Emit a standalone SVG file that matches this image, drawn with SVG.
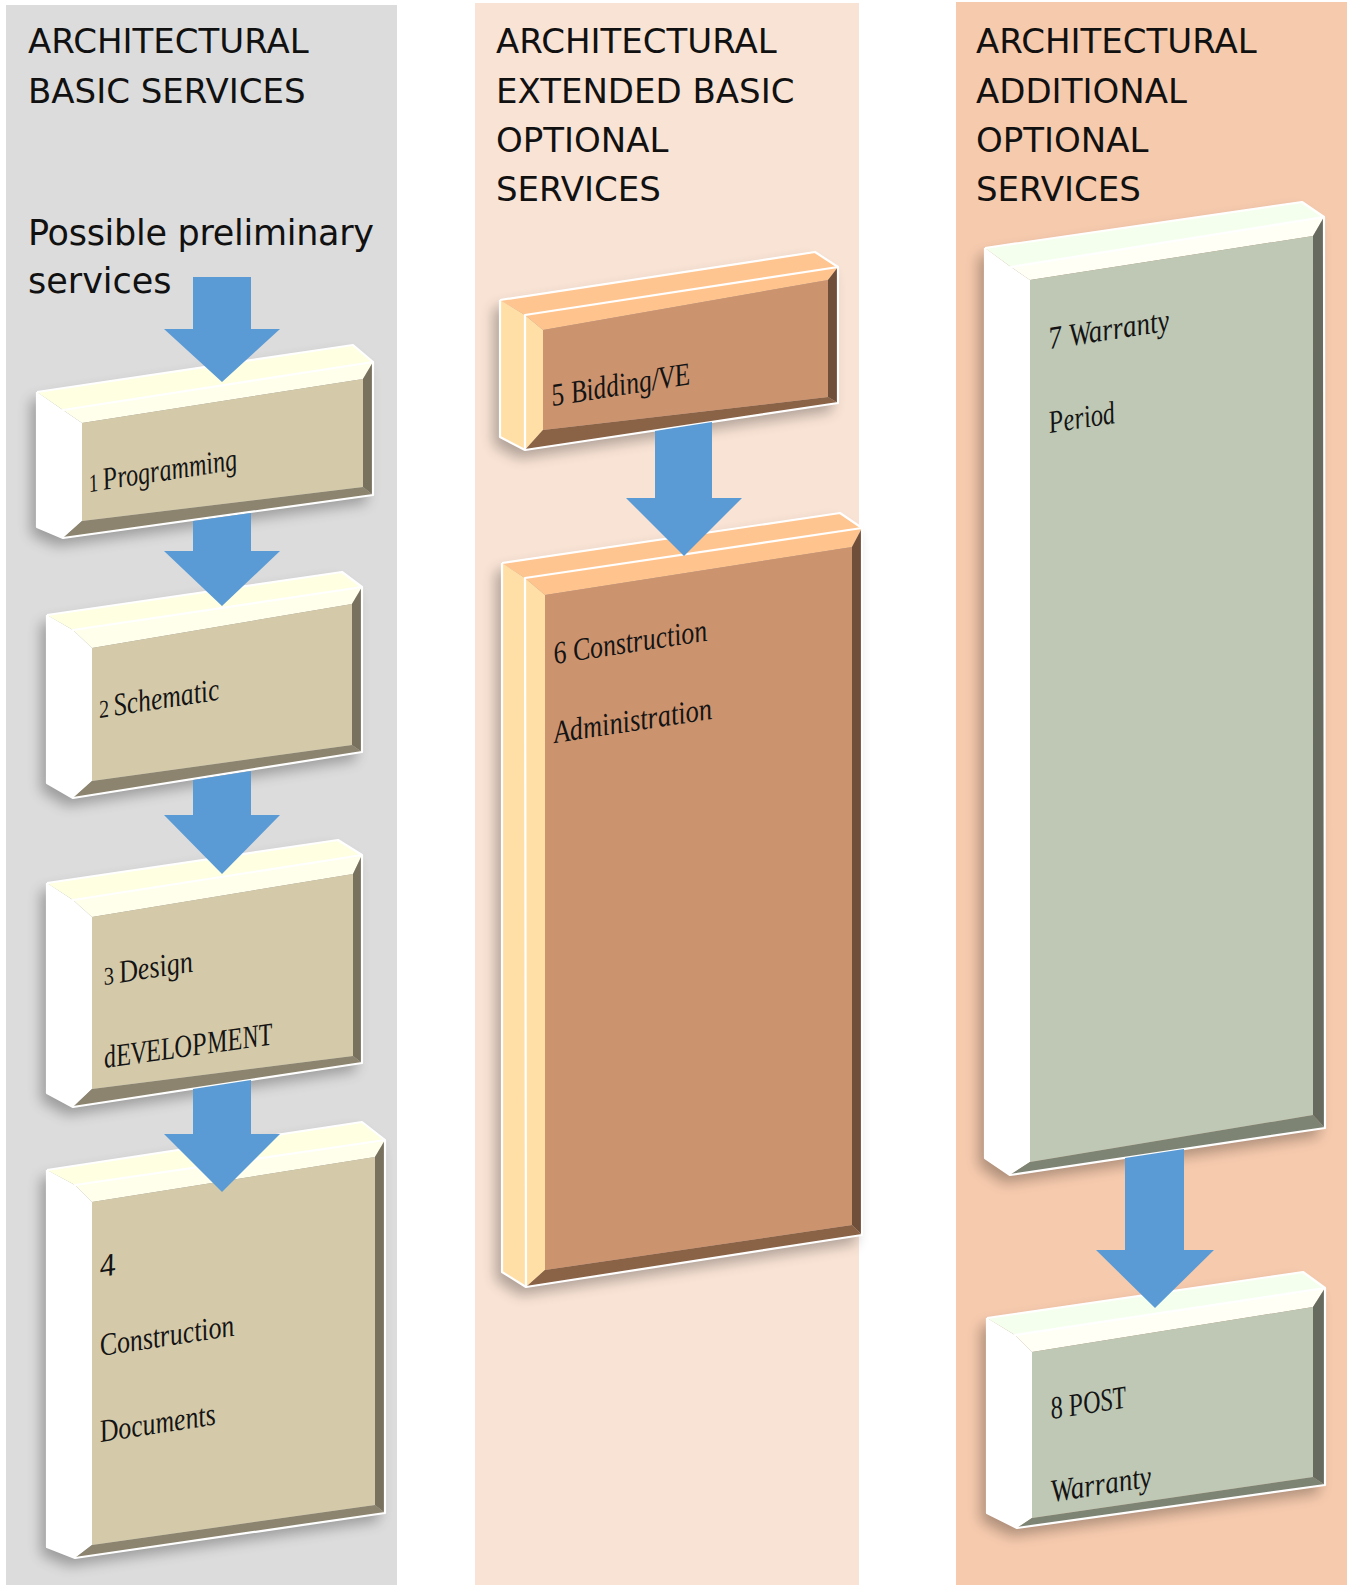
<svg xmlns="http://www.w3.org/2000/svg" width="1351" height="1585" viewBox="0 0 1351 1585">
<defs>
<filter id="sh" x="-30%" y="-30%" width="160%" height="160%">
<feGaussianBlur in="SourceAlpha" stdDeviation="7"/>
<feOffset dx="-6" dy="8"/>
<feComponentTransfer><feFuncA type="linear" slope="0.3"/></feComponentTransfer>
</filter>
</defs>
<style>
.hd{font-family:"DejaVu Sans","Liberation Sans",sans-serif;font-size:34px;fill:#111}
.pre{font-family:"DejaVu Sans","Liberation Sans",sans-serif;font-size:35px;fill:#111}
.lbl{font-family:"Liberation Serif","DejaVu Serif",serif;font-style:italic;font-size:32px;fill:#141414}
.num{font-size:25px}
.hl{fill:none;stroke:#fff;stroke-width:2.2;stroke-linejoin:round}
.shd{fill:#000}
.arrow{fill:#5B9BD5}
.k1 .sf,.k1 .lb{fill:#FFFFFF}.k1 .tf{fill:#FFFFE1}.k1 .tb{fill:#FFFFEC}.k1 .rb{fill:#77715E}.k1 .bb{fill:#8C846E}.k1 .fc{fill:#D4CAAA}
.k2 .sf,.k2 .lb{fill:#FFDFA5}.k2 .tf{fill:#FFC590}.k2 .tb{fill:#FFC48E}.k2 .rb{fill:#6F4F3A}.k2 .bb{fill:#8A6246}.k2 .fc{fill:#CC936F}
.k3 .sf,.k3 .lb{fill:#FFFFFF}.k3 .tf{fill:#F5FFEE}.k3 .tb{fill:#FFFFF6}.k3 .rb{fill:#676B5F}.k3 .bb{fill:#7D8474}.k3 .fc{fill:#BEC8B4}
</style>

<!-- column backgrounds -->
<rect x="6" y="5" width="391" height="1580" fill="#DCDCDC"/>
<rect x="475" y="3" width="384" height="1582" fill="#F9E3D5"/>
<rect x="956" y="2" width="391" height="1583" fill="#F6CAAD"/>

<!-- headers -->
<g id="header1">
<text class="hd" x="28" y="53">ARCHITECTURAL</text>
<text class="hd" x="28" y="103">BASIC SERVICES</text>
<text class="pre" x="28" y="245" textLength="346">Possible preliminary</text>
<text class="pre" x="28" y="293">services</text>
</g>
<g id="header2">
<text class="hd" x="496" y="53">ARCHITECTURAL</text>
<text class="hd" x="496" y="103">EXTENDED BASIC</text>
<text class="hd" x="496" y="152">OPTIONAL</text>
<text class="hd" x="496" y="201">SERVICES</text>
</g>
<g id="header3">
<text class="hd" x="976" y="53">ARCHITECTURAL</text>
<text class="hd" x="976" y="103">ADDITIONAL</text>
<text class="hd" x="976" y="152">OPTIONAL</text>
<text class="hd" x="976" y="201">SERVICES</text>
</g>

<!-- Box 1 -->
<g id="box1" class="box k1">
<polygon class="shd" filter="url(#sh)" points="37,392 353,345 373,362 373,495 63,538 37,527"/>
<polygon class="sf" points="37,392 63,410 63,538 37,527"/>
<polygon class="tf" points="37,392 353,345 373,362 63,410"/>
<polygon class="lb" points="63,410 82,423 82,521 63,538"/>
<polygon class="tb" points="63,410 373,362 363,379 82,423"/>
<polygon class="rb" points="373,362 373,495 363,487 363,379"/>
<polygon class="bb" points="63,538 373,495 363,487 82,521"/>
<polygon class="fc" points="82,423 363,379 363,487 82,521"/>
<polyline class="hl" points="37,392 353,345 373,362 373,495 63,538 37,527 37,392"/>
<polyline class="hl" points="63,538 63,410 373,362"/>
<text class="lbl" x="90" y="492" transform="rotate(-8.7 90 492)" textLength="150" lengthAdjust="spacingAndGlyphs"><tspan class="num">1 </tspan>Programming</text>
</g>

<!-- Box 2 -->
<g id="box2" class="box k1">
<polygon class="shd" filter="url(#sh)" points="47,615 342,572 362,587 362,752 73,798 47,783"/>
<polygon class="sf" points="47,615 73,630 73,798 47,783"/>
<polygon class="tf" points="47,615 342,572 362,587 73,630"/>
<polygon class="lb" points="73,630 92,648 92,781 73,798"/>
<polygon class="tb" points="73,630 362,587 352,604 92,648"/>
<polygon class="rb" points="362,587 362,752 352,745 352,604"/>
<polygon class="bb" points="73,798 362,752 352,745 92,781"/>
<polygon class="fc" points="92,648 352,604 352,745 92,781"/>
<polyline class="hl" points="47,615 342,572 362,587 362,752 73,798 47,783 47,615"/>
<polyline class="hl" points="73,798 73,630 362,587"/>
<text class="lbl" x="100" y="718" transform="rotate(-8.7 100 718)" textLength="122" lengthAdjust="spacingAndGlyphs"><tspan class="num">2 </tspan>Schematic</text>
</g>

<!-- Box 3 -->
<g id="box3" class="box k1">
<polygon class="shd" filter="url(#sh)" points="47,883 338,840 362,855 362,1063 73,1107 47,1093"/>
<polygon class="sf" points="47,883 73,900 73,1107 47,1093"/>
<polygon class="tf" points="47,883 338,840 362,855 73,900"/>
<polygon class="lb" points="73,900 92,917 92,1089 73,1107"/>
<polygon class="tb" points="73,900 362,855 353,874 92,917"/>
<polygon class="rb" points="362,855 362,1063 353,1056 353,874"/>
<polygon class="bb" points="73,1107 362,1063 353,1056 92,1089"/>
<polygon class="fc" points="92,917 353,874 353,1056 92,1089"/>
<polyline class="hl" points="47,883 338,840 362,855 362,1063 73,1107 47,1093 47,883"/>
<polyline class="hl" points="73,1107 73,900 362,855"/>
<text class="lbl" x="105" y="985" transform="rotate(-8.7 105 985)" textLength="90" lengthAdjust="spacingAndGlyphs"><tspan class="num">3 </tspan>Design</text>
<text class="lbl" x="105" y="1068" transform="rotate(-8 105 1068)" textLength="170" lengthAdjust="spacingAndGlyphs">dEVELOPMENT</text>
</g>

<!-- Box 4 -->
<g id="box4" class="box k1">
<polygon class="shd" filter="url(#sh)" points="47,1170 362,1122 385,1140 385,1513 75,1558 47,1547"/>
<polygon class="sf" points="47,1170 75,1185 75,1558 47,1547"/>
<polygon class="tf" points="47,1170 362,1122 385,1140 75,1185"/>
<polygon class="lb" points="75,1185 92,1202 92,1545 75,1558"/>
<polygon class="tb" points="75,1185 385,1140 375,1157 92,1202"/>
<polygon class="rb" points="385,1140 385,1513 375,1505 375,1157"/>
<polygon class="bb" points="75,1558 385,1513 375,1505 92,1545"/>
<polygon class="fc" points="92,1202 375,1157 375,1505 92,1545"/>
<polyline class="hl" points="47,1170 362,1122 385,1140 385,1513 75,1558 47,1547 47,1170"/>
<polyline class="hl" points="75,1558 75,1185 385,1140"/>
<text class="lbl" x="101" y="1277" transform="rotate(-8.7 101 1277)">4</text>
<text class="lbl" x="101" y="1356" transform="rotate(-8.7 101 1356)" textLength="136" lengthAdjust="spacingAndGlyphs">Construction</text>
<text class="lbl" x="101" y="1442" transform="rotate(-8.7 101 1442)" textLength="117" lengthAdjust="spacingAndGlyphs">Documents</text>
</g>

<!-- Box 5 -->
<g id="box5" class="box k2">
<polygon class="shd" filter="url(#sh)" points="500,300 815,252 838,267 838,403 525,450 500,437"/>
<polygon class="sf" points="500,300 525,315 525,450 500,437"/>
<polygon class="tf" points="500,300 815,252 838,267 525,315"/>
<polygon class="lb" points="525,315 543,330 543,430 525,450"/>
<polygon class="tb" points="525,315 838,267 828,280 543,330"/>
<polygon class="rb" points="838,267 838,403 828,397 828,280"/>
<polygon class="bb" points="525,450 838,403 828,397 543,430"/>
<polygon class="fc" points="543,330 828,280 828,397 543,430"/>
<polyline class="hl" points="500,300 815,252 838,267 838,403 525,450 500,437 500,300"/>
<polyline class="hl" points="525,450 525,315 838,267"/>
<text class="lbl" x="553" y="406" transform="rotate(-9 553 406)" textLength="140" lengthAdjust="spacingAndGlyphs">5 Bidding/VE</text>
</g>

<!-- Box 6 -->
<g id="box6" class="box k2">
<polygon class="shd" filter="url(#sh)" points="502,563 840,513 862,528 862,1235 526,1287 502,1272"/>
<polygon class="sf" points="502,563 525,578 526,1287 502,1272"/>
<polygon class="tf" points="502,563 840,513 862,528 525,578"/>
<polygon class="lb" points="525,578 545,595 545,1270 526,1287"/>
<polygon class="tb" points="525,578 862,528 852,547 545,595"/>
<polygon class="rb" points="862,528 862,1235 852,1225 852,547"/>
<polygon class="bb" points="526,1287 862,1235 852,1225 545,1270"/>
<polygon class="fc" points="545,595 852,547 852,1225 545,1270"/>
<polyline class="hl" points="502,563 840,513 862,528 862,1235 526,1287 502,1272 502,563"/>
<polyline class="hl" points="526,1287 525,578 862,528"/>
<text class="lbl" x="555" y="664" transform="rotate(-8.7 555 664)" textLength="155" lengthAdjust="spacingAndGlyphs">6 Construction</text>
<text class="lbl" x="555" y="743" transform="rotate(-8.7 555 743)" textLength="160" lengthAdjust="spacingAndGlyphs">Administration</text>
</g>

<!-- Box 7 -->
<g id="box7" class="box k3">
<polygon class="shd" filter="url(#sh)" points="985,248 1302,202 1324,217 1325,1128 1010,1175 985,1158"/>
<polygon class="sf" points="985,248 1011,267 1010,1175 985,1158"/>
<polygon class="tf" points="985,248 1302,202 1324,217 1011,267"/>
<polygon class="lb" points="1011,267 1030,280 1030,1162 1010,1175"/>
<polygon class="tb" points="1011,267 1324,217 1313,236 1030,280"/>
<polygon class="rb" points="1324,217 1325,1128 1313,1115 1313,236"/>
<polygon class="bb" points="1010,1175 1325,1128 1313,1115 1030,1162"/>
<polygon class="fc" points="1030,280 1313,236 1313,1115 1030,1162"/>
<polyline class="hl" points="985,248 1302,202 1324,217 1325,1128 1010,1175 985,1158 985,248"/>
<polyline class="hl" points="1010,1175 1011,267 1324,217"/>
<text class="lbl" x="1050" y="349" transform="rotate(-8.7 1050 349)" textLength="122" lengthAdjust="spacingAndGlyphs">7 Warranty</text>
<text class="lbl" x="1050" y="433" transform="rotate(-8.7 1050 433)" textLength="67" lengthAdjust="spacingAndGlyphs">Period</text>
</g>

<!-- Box 8 -->
<g id="box8" class="box k3">
<polygon class="shd" filter="url(#sh)" points="987,1318 1303,1272 1325,1288 1325,1485 1017,1528 987,1513"/>
<polygon class="sf" points="987,1318 1015,1335 1017,1528 987,1513"/>
<polygon class="tf" points="987,1318 1303,1272 1325,1288 1015,1335"/>
<polygon class="lb" points="1015,1335 1032,1352 1032,1518 1017,1528"/>
<polygon class="tb" points="1015,1335 1325,1288 1313,1307 1032,1352"/>
<polygon class="rb" points="1325,1288 1325,1485 1313,1477 1313,1307"/>
<polygon class="bb" points="1017,1528 1325,1485 1313,1477 1032,1518"/>
<polygon class="fc" points="1032,1352 1313,1307 1313,1477 1032,1518"/>
<polyline class="hl" points="987,1318 1303,1272 1325,1288 1325,1485 1017,1528 987,1513 987,1318"/>
<polyline class="hl" points="1017,1528 1015,1335 1325,1288"/>
<text class="lbl" x="1052" y="1419" transform="rotate(-8.7 1052 1419)" textLength="76" lengthAdjust="spacingAndGlyphs">8 POST</text>
<text class="lbl" x="1052" y="1502" transform="rotate(-8.7 1052 1502)" textLength="102" lengthAdjust="spacingAndGlyphs">Warranty</text>
</g>

<!-- connectors: block arrows -->
<g id="connectors">
<polygon class="arrow" points="193,277 251,277 251,329 280,329 222,382 164,329 193,329"/>
<polygon class="arrow" points="193,521 251,513 251,551 280,551 222,606 164,551 193,551"/>
<polygon class="arrow" points="193,780 251,771 251,815 280,815 222,874 164,815 193,815"/>
<polygon class="arrow" points="193,1089 251,1080 251,1134 280,1134 222,1192 164,1134 193,1134"/>
<polygon class="arrow" points="655,431 712,422 712,498 742,498 684,556 626,498 655,498"/>
<polygon class="arrow" points="1125,1158 1184,1149 1184,1250 1214,1250 1155,1308 1096,1250 1125,1250"/>
</g>
</svg>
